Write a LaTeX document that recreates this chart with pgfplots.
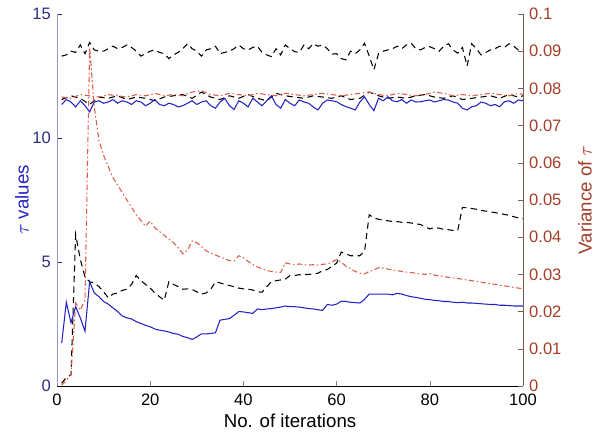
\documentclass[border=0pt]{standalone}
\usepackage{fontspec}
\setmainfont{Liberation Sans}
\usepackage{pgfplots}
\usepackage{pgfplotstable}
\pgfplotsset{compat=1.18}

\definecolor{tauBlue}{RGB}{35,35,195}
\definecolor{tickBlue}{RGB}{45,45,130}
\definecolor{axBlue}{RGB}{150,150,215}
\definecolor{varRed}{RGB}{165,60,40}
\definecolor{axRed}{RGB}{130,90,80}
\definecolor{lineRed}{RGB}{220,90,70}

% x tauK tauB varB varK varR
\pgfplotstableread{
x tauK tauB varB varK varR
1 13.30 11.35 0.0115 0.0007 0.0002
2 13.35 11.55 0.0225 0.0023 0.0015
3 13.50 11.45 0.0170 0.0030 0.0030
4 13.45 11.25 0.0213 0.0407 0.0223
5 13.75 11.50 0.0183 0.0340 0.0204
6 13.40 11.30 0.0147 0.0293 0.0231
7 13.85 11.05 0.0280 0.0280 0.0910
8 13.55 11.45 0.0250 0.0277 0.0750
9 13.50 11.50 0.0240 0.0267 0.0660
10 13.50 11.40 0.0227 0.0253 0.0620
11 13.60 11.45 0.0220 0.0237 0.0590
12 13.70 11.55 0.0210 0.0247 0.0560
13 13.60 11.40 0.0200 0.0250 0.0540
14 13.65 11.50 0.0188 0.0257 0.0520
15 13.75 11.45 0.0183 0.0260 0.0500
16 13.65 11.35 0.0180 0.0273 0.0480
17 13.50 11.50 0.0173 0.0297 0.0460
18 13.30 11.45 0.0168 0.0283 0.0445
19 13.40 11.30 0.0163 0.0273 0.0430
20 13.50 11.40 0.0159 0.0263 0.0443
21 13.55 11.55 0.0153 0.0250 0.0425
22 13.45 11.35 0.0150 0.0240 0.0415
23 13.40 11.30 0.0148 0.0230 0.0405
24 13.20 11.40 0.0145 0.0280 0.0395
25 13.35 11.35 0.0141 0.0273 0.0385
26 13.45 11.25 0.0139 0.0267 0.0372
27 13.60 11.30 0.0133 0.0260 0.0355
28 13.80 11.40 0.0130 0.0261 0.0365
29 13.60 11.50 0.0125 0.0259 0.0390
30 13.50 11.35 0.0132 0.0253 0.0385
31 13.30 11.45 0.0140 0.0247 0.0375
32 13.55 11.50 0.0140 0.0250 0.0363
33 13.60 11.30 0.0141 0.0260 0.0358
34 13.70 11.20 0.0143 0.0280 0.0352
35 13.40 11.45 0.0177 0.0277 0.0347
36 13.45 11.60 0.0179 0.0273 0.0342
37 13.50 11.30 0.0181 0.0270 0.0337
38 13.60 11.15 0.0190 0.0267 0.0336
39 13.75 11.50 0.0200 0.0263 0.0350
40 13.60 11.40 0.0199 0.0261 0.0345
41 13.55 11.25 0.0197 0.0260 0.0335
42 13.65 11.60 0.0195 0.0258 0.0326
43 13.70 11.45 0.0207 0.0253 0.0320
44 13.45 11.30 0.0205 0.0252 0.0315
45 13.35 11.50 0.0207 0.0267 0.0310
46 13.28 11.70 0.0208 0.0280 0.0308
47 13.60 11.35 0.0210 0.0283 0.0306
48 13.35 11.20 0.0212 0.0285 0.0305
49 13.75 11.55 0.0215 0.0287 0.0331
50 13.60 11.40 0.0213 0.0297 0.0328
51 13.48 11.30 0.0213 0.0297 0.0326
52 13.45 11.53 0.0212 0.0299 0.0328
53 13.75 11.45 0.0210 0.0299 0.0326
54 13.60 11.40 0.0208 0.0300 0.0325
55 13.80 11.25 0.0207 0.0301 0.0326
56 13.70 11.13 0.0205 0.0303 0.0325
57 13.75 11.40 0.0203 0.0310 0.0327
58 13.60 11.53 0.0219 0.0313 0.0328
59 13.38 11.50 0.0217 0.0322 0.0333
60 13.40 11.46 0.0220 0.0330 0.0340
61 13.20 11.35 0.0228 0.0360 0.0333
62 13.15 11.26 0.0227 0.0355 0.0322
63 13.50 11.20 0.0225 0.0350 0.0315
64 13.40 11.13 0.0224 0.0350 0.0308
65 13.55 11.45 0.0223 0.0350 0.0303
66 13.82 11.66 0.0233 0.0362 0.0301
67 13.30 11.35 0.0247 0.0460 0.0308
68 12.75 11.10 0.0247 0.0452 0.0312
69 13.40 11.60 0.0247 0.0448 0.0318
70 13.50 11.50 0.0247 0.0446 0.0317
71 13.55 11.66 0.0247 0.0444 0.0314
72 13.60 11.50 0.0245 0.0442 0.0312
73 13.70 11.46 0.0249 0.0442 0.0310
74 13.60 11.55 0.0247 0.0440 0.0308
75 13.75 11.40 0.0243 0.0440 0.0306
76 13.82 11.53 0.0240 0.0438 0.0305
77 13.60 11.45 0.0238 0.0436 0.0303
78 13.55 11.46 0.0236 0.0434 0.0301
79 13.65 11.50 0.0233 0.0428 0.0300
80 13.68 11.53 0.0232 0.0422 0.0302
81 13.60 11.45 0.0230 0.0426 0.0298
82 13.50 11.50 0.0229 0.0424 0.0296
83 13.70 11.55 0.0227 0.0421 0.0294
84 13.80 11.53 0.0227 0.0420 0.0292
85 13.55 11.45 0.0225 0.0418 0.0290
86 13.42 11.40 0.0224 0.0418 0.0289
87 13.65 11.20 0.0225 0.0480 0.0287
88 12.90 11.13 0.0223 0.0479 0.0285
89 13.80 11.26 0.0223 0.0477 0.0283
90 13.60 11.30 0.0222 0.0475 0.0281
91 13.35 11.45 0.0221 0.0472 0.0279
92 13.45 11.40 0.0220 0.0470 0.0277
93 13.55 11.30 0.0219 0.0468 0.0275
94 13.60 11.35 0.0219 0.0466 0.0273
95 13.70 11.26 0.0217 0.0464 0.0271
96 13.65 11.46 0.0217 0.0461 0.0269
97 13.80 11.50 0.0216 0.0459 0.0267
98 13.70 11.40 0.0215 0.0455 0.0265
99 13.55 11.53 0.0215 0.0452 0.0263
100 13.60 11.50 0.0215 0.0450 0.0262
}\main

% x tauKm tauR
\pgfplotstableread{
x tauKm tauR
1 11.55 11.65
3 11.70 11.60
5 11.60 11.75
7 11.35 11.70
9 11.65 11.65
11 11.60 11.75
13 11.70 11.70
15 11.55 11.65
17 11.65 11.75
19 11.60 11.70
21 11.50 11.80
23 11.65 11.70
25 11.70 11.75
27 11.75 11.70
29 11.60 11.85
31 11.85 11.90
33 11.65 11.75
35 11.55 11.70
37 11.70 11.80
39 11.60 11.75
41 11.75 11.70
43 11.60 11.80
45 11.50 11.75
47 11.80 11.70
49 11.70 11.80
51 11.65 11.75
53 11.60 11.70
55 11.70 11.75
57 11.65 11.80
59 11.60 11.75
61 11.70 11.70
63 11.55 11.75
65 11.60 11.80
67 11.85 11.85
69 11.70 11.75
71 11.60 11.70
73 11.65 11.80
75 11.60 11.75
77 11.70 11.70
79 11.75 11.75
81 11.65 11.85
83 11.60 11.80
85 11.70 11.70
87 11.55 11.75
89 11.60 11.70
91 11.65 11.75
93 11.70 11.80
95 11.60 11.75
97 11.75 11.70
99 11.65 11.80
100 11.70 11.75
}\mid

\begin{document}
\begin{tikzpicture}
\pgfplotsset{
  every axis/.append style={
    scale only axis, width=9.3cm, height=7.424cm,
    xmin=0, xmax=100,
    tick align=inside,
    major tick length=3pt,
    tick label style={font=\fontsize{9.4}{11}\selectfont},
    label style={font=\fontsize{10.6}{12}\selectfont},
    /pgf/number format/assume math mode=true,
  },
  kdash/.style={black, line width=0.6pt, dash pattern=on 3.5pt off 2.5pt},
  rdot/.style={lineRed, line width=0.6pt, dash pattern=on 3pt off 1.5pt on 0.8pt off 1.5pt},
}
\begin{axis}[
  name=ax,
  ymin=0, ymax=15,
  axis x line*=bottom, axis y line*=left,
  xtick={0,20,40,60,80,100},
  ytick={0,5,10,15},
  xticklabel style={yshift=-1pt},
  x axis line style={black, -},
  y axis line style={axBlue, -},
  yticklabel style={text=tickBlue},
  ytick style={tickBlue},
  xlabel={No. of iterations},
  xlabel style={at={(axis description cs:0.5,-0.095)}, anchor=center},
  ylabel={\textcolor{tauBlue}{$\tau$ values}},
  ylabel style={at={(axis description cs:-0.075,0.5)}, anchor=center, rotate=0},
]
\addplot[kdash] table[x=x, y=tauK] {\main};
\addplot[kdash] table[x=x, y=tauKm] {\mid};
\addplot[rdot] table[x=x, y=tauR] {\mid};
\addplot[tauBlue, line width=0.6pt] table[x=x, y=tauB] {\main};
\end{axis}
\begin{axis}[
  ymin=0, ymax=0.1,
  axis x line=none, axis y line*=right,
  ytick={0,0.01,0.02,0.03,0.04,0.05,0.06,0.07,0.08,0.09,0.1},
  scaled y ticks=false,
  yticklabel style={text=varRed, /pgf/number format/fixed, /pgf/number format/precision=2},
  y axis line style={axRed, -},
  ytick style={axRed},
  ylabel={\textcolor{varRed}{Variance of $\tau$}},
  ylabel style={at={(axis description cs:1.133,0.5)}, anchor=center, rotate=0},
]
\addplot[kdash] table[x=x, y=varK] {\main};
\addplot[rdot] table[x=x, y=varR] {\main};
\addplot[tauBlue, line width=0.6pt] table[x=x, y=varB] {\main};
\end{axis}
\pgfresetboundingbox
\path[use as bounding box] ([xshift=-1.138cm, yshift=-0.998cm]ax.south west)
  rectangle ([xshift=1.577cm, yshift=0.279cm]ax.north east);
\end{tikzpicture}
\end{document}
